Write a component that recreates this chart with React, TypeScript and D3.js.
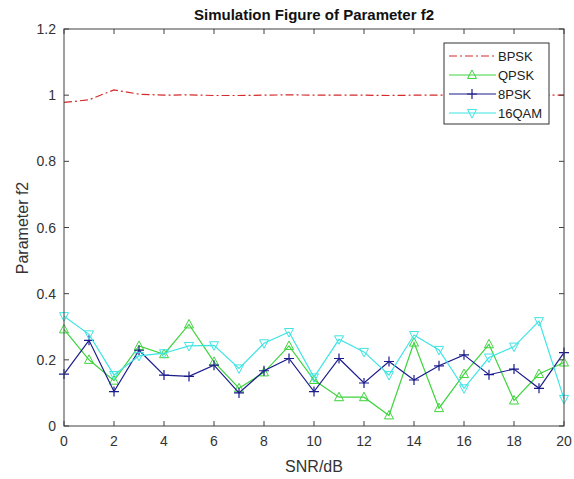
import React from 'react';
import * as d3 from 'd3';

// SNR values (dB)
const snr = d3.range(0, 21);

const bpsk = [0.978, 0.986, 1.016, 1.003, 1.0, 1.001, 0.999, 0.999, 1.0, 1.001, 1.0, 1.0, 1.0, 0.999, 1.0, 1.0, 1.0, 0.999, 1.0, 1.0, 1.0];
const qpsk = [0.292, 0.2, 0.137, 0.242, 0.217, 0.307, 0.194, 0.114, 0.162, 0.242, 0.139, 0.087, 0.087, 0.032, 0.252, 0.054, 0.157, 0.247, 0.077, 0.157, 0.192];
const psk8 = [0.157, 0.259, 0.104, 0.229, 0.154, 0.15, 0.184, 0.1, 0.167, 0.204, 0.104, 0.204, 0.13, 0.195, 0.139, 0.182, 0.215, 0.155, 0.172, 0.114, 0.222];
const qam16 = [0.332, 0.277, 0.154, 0.212, 0.22, 0.242, 0.244, 0.174, 0.25, 0.284, 0.147, 0.262, 0.224, 0.154, 0.275, 0.23, 0.114, 0.207, 0.24, 0.317, 0.082];

const xTicks = [0, 2, 4, 6, 8, 10, 12, 14, 16, 18, 20];
const yTicks = [0, 0.2, 0.4, 0.6, 0.8, 1, 1.2];

const seriesNames = ['BPSK', 'QPSK', '8PSK', '16QAM'];
const seriesColors = ['#d42a2a', '#3dd43d', '#1c1c8c', '#3ee4e4'];

const font = '"Liberation Sans", Arial, sans-serif';
const axisColor = '#404040';

const Marker = ({ kind, x, y, color }: any) => {
  if (kind === 'tri-up') {
    return <path d={`M${x},${y - 5} L${x + 4.5},${y + 3.5} L${x - 4.5},${y + 3.5} Z`} fill="none" stroke={color} strokeWidth={1} />;
  }
  if (kind === 'tri-down') {
    return <path d={`M${x},${y + 5} L${x + 4.5},${y - 3.5} L${x - 4.5},${y - 3.5} Z`} fill="none" stroke={color} strokeWidth={1} />;
  }
  if (kind === 'plus') {
    return <path d={`M${x - 5},${y} L${x + 5},${y} M${x},${y - 5} L${x},${y + 5}`} stroke={color} strokeWidth={1.2} />;
  }
  return null;
};

const App = () => {
  const x = d3.scaleLinear().domain([0, 20]).range([64, 564]);
  const y = d3.scaleLinear().domain([0, 1.2]).range([426, 29]);

  const line = d3.line<number>().x((d, i) => x(snr[i])).y((d) => y(d));

  const series = [
    { name: seriesNames[0], data: bpsk, color: seriesColors[0], dash: '8,3,2,3', marker: null },
    { name: seriesNames[1], data: qpsk, color: seriesColors[1], dash: null, marker: 'tri-up' },
    { name: seriesNames[2], data: psk8, color: seriesColors[2], dash: null, marker: 'plus' },
    { name: seriesNames[3], data: qam16, color: seriesColors[3], dash: null, marker: 'tri-down' }
  ];

  const [x0, x1] = x.range();
  const [y0, y1] = y.range();

  return (
    <svg width={574} height={479} style={{ position: 'absolute', left: 0, top: 0, background: '#fff' }} fontFamily={font}>
      <rect x={0} y={0} width={574} height={479} fill="#fff" />

      {/* data lines */}
      {series.map((s) => (
        <g key={s.name}>
          <path d={line(s.data) as string} fill="none" stroke={s.color} strokeWidth={1.2} strokeDasharray={s.dash || undefined} />
          {s.marker && s.data.map((v, i) => <Marker key={i} kind={s.marker} x={x(snr[i])} y={y(v)} color={s.color} />)}
        </g>
      ))}

      {/* axes box */}
      <rect x={x0} y={y1} width={x1 - x0} height={y0 - y1} fill="none" stroke={axisColor} strokeWidth={1} />
      {xTicks.map((t) => (
        <g key={'x' + t}>
          <line x1={x(t)} x2={x(t)} y1={y0} y2={y0 - 5} stroke={axisColor} />
          <line x1={x(t)} x2={x(t)} y1={y1} y2={y1 + 5} stroke={axisColor} />
          <text x={x(t)} y={y0 + 20} textAnchor="middle" fontSize={14} fill="#333">{t}</text>
        </g>
      ))}
      {yTicks.map((t) => (
        <g key={'y' + t}>
          <line x1={x0} x2={x0 + 5} y1={y(t)} y2={y(t)} stroke={axisColor} />
          <line x1={x1} x2={x1 - 5} y1={y(t)} y2={y(t)} stroke={axisColor} />
          <text x={x0 - 8} y={y(t) + 5} textAnchor="end" fontSize={14} fill="#333">{d3.format('~g')(t)}</text>
        </g>
      ))}

      {/* labels */}
      <text x={314} y={20} textAnchor="middle" fontSize={15} fontWeight="bold" fill="#111">Simulation Figure of Parameter f2</text>
      <text x={314} y={472} textAnchor="middle" fontSize={16} fill="#333">SNR/dB</text>
      <text transform={`translate(28,228) rotate(-90)`} textAnchor="middle" fontSize={16} fill="#333">Parameter f2</text>

      {/* legend */}
      <g>
        <rect x={444} y={43} width={105} height={81} fill="#fff" stroke="#333" strokeWidth={1} />
        {series.map((s, i) => {
          const ly = 56 + i * 19;
          return (
            <g key={'lg' + s.name}>
              <line x1={449} x2={496} y1={ly} y2={ly} stroke={s.color} strokeWidth={1.2} strokeDasharray={s.dash || undefined} />
              {s.marker && <Marker kind={s.marker} x={472} y={ly} color={s.color} />}
              <text x={498} y={ly + 5} fontSize={13} fill="#222">{s.name}</text>
            </g>
          );
        })}
      </g>
    </svg>
  );
};

export default App;
